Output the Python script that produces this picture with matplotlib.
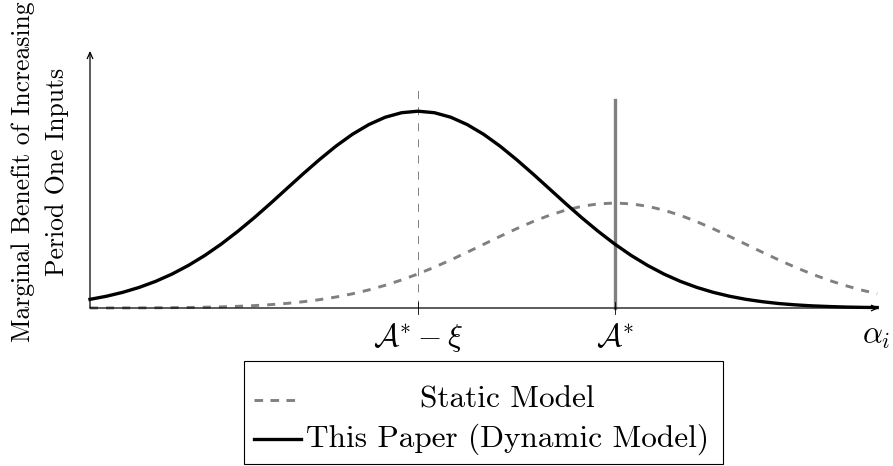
import numpy as np
import matplotlib
matplotlib.use("Agg")
import matplotlib.pyplot as plt
from matplotlib.lines import Line2D
from matplotlib.patches import Rectangle

# ---- data -------------------------------------------------------------
alpha = np.linspace(0, 12, 49)  # sample points along the alpha_i axis

# marginal benefit, dynamic model (peaks at A* - xi)
dynamic_model = [
    0.132, 0.179, 0.239, 0.314, 0.406, 0.517, 0.649, 0.801, 0.974, 1.166,
    1.373, 1.593, 1.820, 2.046, 2.264, 2.468, 2.648, 2.796, 2.908, 2.977,
    3.000, 2.977, 2.908, 2.796, 2.648, 2.468, 2.264, 2.046, 1.820, 1.593,
    1.373, 1.166, 0.974, 0.801, 0.649, 0.517, 0.406, 0.314, 0.239, 0.179,
    0.132, 0.096, 0.068, 0.048, 0.033, 0.023, 0.015, 0.010, 0.007,
]

# marginal benefit, static model (peaks at A*)
static_model = [
    0.0005, 0.0009, 0.0014, 0.0022, 0.0035, 0.0054, 0.0081, 0.0121, 0.0178,
    0.0256, 0.0365, 0.0510, 0.0702, 0.0954, 0.1274, 0.1674, 0.2165, 0.2758,
    0.3461, 0.4274, 0.5195, 0.6218, 0.7325, 0.8498, 0.9704, 1.0912, 1.2077,
    1.3162, 1.4120, 1.4914, 1.5507, 1.5875, 1.6000, 1.5875, 1.5507, 1.4914,
    1.4120, 1.3162, 1.2077, 1.0912, 0.9704, 0.8498, 0.7325, 0.6218, 0.5195,
    0.4274, 0.3461, 0.2758, 0.2165,
]

tick_positions = [5, 8]
tick_labels = [r"$\mathcal{A}^{*}-\xi$", r"$\mathcal{A}^{*}$"]
x_label = r"$\alpha_i$"
y_label = "Marginal Benefit of Increasing\nPeriod One Inputs"
series_labels = ["Static Model", "This Paper (Dynamic Model)"]

# ---- style ------------------------------------------------------------
plt.rcParams["font.family"] = ["cmr10", "DejaVu Serif"]
plt.rcParams["mathtext.fontset"] = "cm"
plt.rcParams["axes.formatter.use_mathtext"] = True
plt.rcParams["lines.scale_dashes"] = False

GRAY = "#808080"
FS_TICK = 22.5
FS_LEG = 22.5
FS_YLAB = 18.5
DASH = (0, (5.8, 5.8))

W, H = 893, 466
X0, Y0, S = 90, 308, 65.6   # origin (pixels from top-left) and pixels per unit

fig = plt.figure(figsize=(W / 100, H / 100), dpi=100)
ax = fig.add_axes([0, 0, 1, 1])
ax.set_xlim(-X0 / S, (W - X0) / S)
ax.set_ylim((Y0 - H) / S, Y0 / S)
ax.axis("off")

def fig_xy(px, py):
    """pixel position (from top-left) -> figure fraction"""
    return px / W, 1 - py / H

# axes with arrow heads
arrow = dict(arrowstyle="->,head_length=0.45,head_width=0.2", lw=0.9,
             color="black", shrinkA=0, shrinkB=0)
ax.annotate("", xy=(12.03, 0), xytext=(0, 0), arrowprops=arrow)
ax.annotate("", xy=(0, 3.92), xytext=(0, 0), arrowprops=arrow)

# reference lines
ax.plot([5, 5], [0, 3.32], color=GRAY, lw=0.7, linestyle=DASH, zorder=1)
ax.plot([8, 8], [0, 3.17], color=GRAY, lw=2.4, zorder=1)

# curves
ax.plot(alpha, static_model, color=GRAY, lw=2.1, linestyle=DASH,
        solid_capstyle="butt", dash_capstyle="butt", zorder=2)
ax.plot(alpha, dynamic_model, color="black", lw=2.4, zorder=3)

# tick marks and labels
for xt, lab in zip(tick_positions, tick_labels):
    ax.plot([xt, xt], [-0.085, 0.085], color="black", lw=0.6, zorder=4)
    ax.text(xt, -0.45, lab, ha="center", va="center", fontsize=FS_TICK)
ax.text(*ax.transData.inverted().transform(
            (876, fig.bbox.height - 337)), x_label,
        ha="center", va="center", fontsize=FS_TICK)

# axis title
fig.text(*fig_xy(40, 172), y_label, rotation=90, ha="center", va="center",
         multialignment="center", fontsize=FS_YLAB, linespacing=1.55)

# legend box
bx0, by0, bx1, by1 = 244, 361, 723, 464
(fx0, fy0), (fx1, fy1) = fig_xy(bx0, by1), fig_xy(bx1, by0)
fig.patches.append(Rectangle((fx0, fy0), fx1 - fx0, fy1 - fy0,
                             transform=fig.transFigure, fill=False,
                             edgecolor="black", lw=0.8))
ly1, ly2 = 400, 439
hx0 = 254
fig.lines.append(Line2D([hx0 / W, 296 / W], [1 - ly1 / H] * 2,
                        transform=fig.transFigure, color=GRAY, lw=2.1,
                        linestyle=(0, (6.2, 5.3))))
fig.lines.append(Line2D([hx0 / W, 301 / W], [1 - ly2 / H] * 2,
                        transform=fig.transFigure, color="black", lw=2.4))
t2 = fig.text(*fig_xy(306, ly2), series_labels[1], ha="left", va="center",
              fontsize=FS_LEG)
fig.canvas.draw()
bb = t2.get_window_extent()
cx = (bb.x0 + bb.x1) / 2 / fig.bbox.width
fig.text(cx, 1 - ly1 / H, series_labels[0], ha="center", va="center",
         fontsize=FS_LEG)

fig.savefig("out.png", dpi=100)
